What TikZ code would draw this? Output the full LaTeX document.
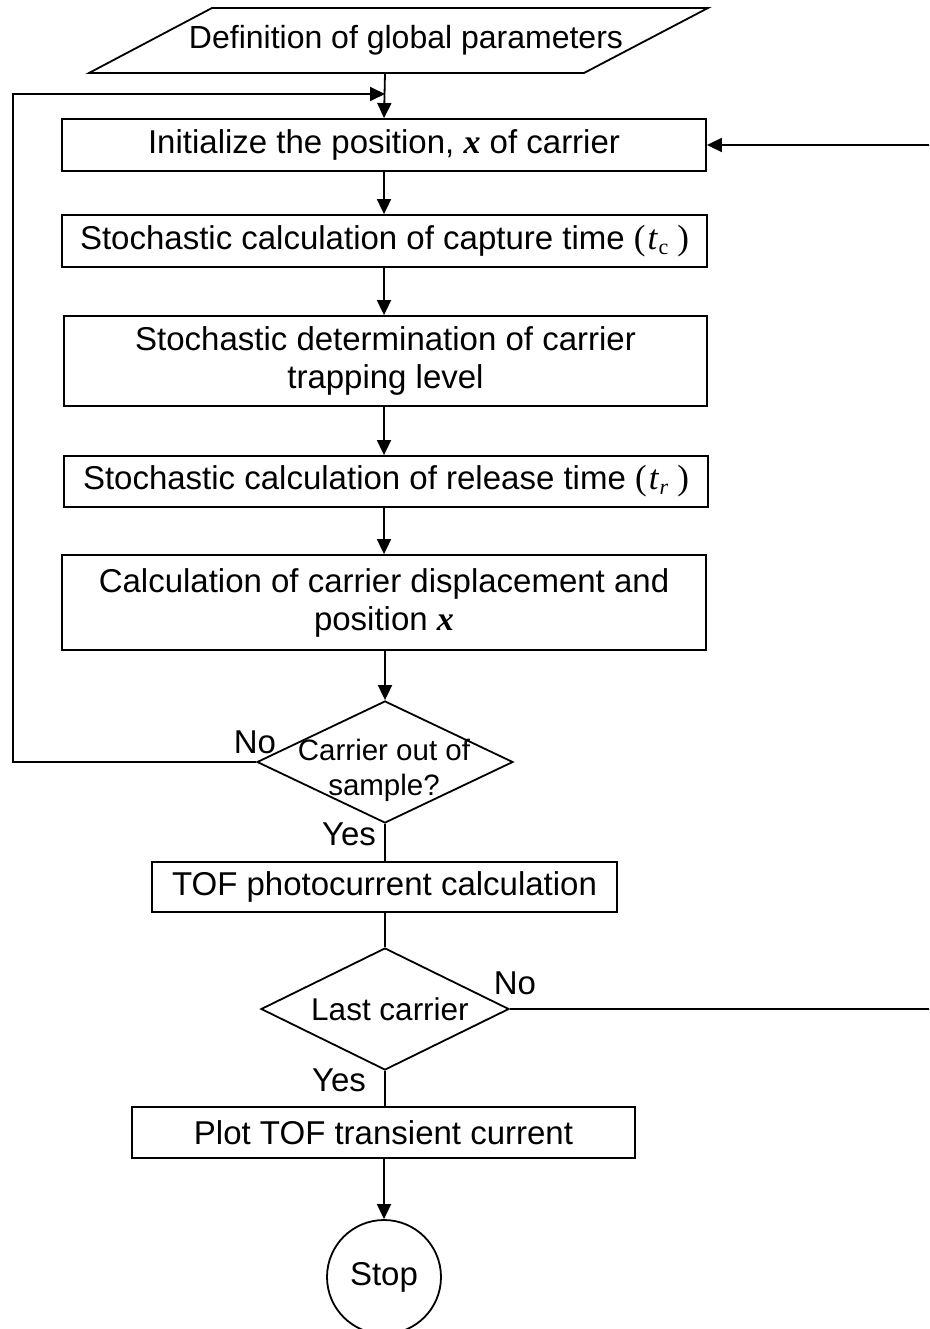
\documentclass[tikz,border=0pt]{standalone}
\usepackage{fontspec}
\setmainfont{Liberation Sans}
\newfontfamily\serifmath{Liberation Serif}
\usetikzlibrary{arrows.meta,shapes.geometric}
\newcommand{\bx}{{\serifmath\fontsize{34}{38}\selectfont\bfseries\itshape x}}
\newcommand{\tsub}[1]{{\serifmath\fontsize{35}{38}\selectfont(\kern2pt\textit{t}\kern0.5pt\raisebox{-5pt}{\fontsize{22}{24}\selectfont #1}\kern9pt)}}
\begin{document}
\begin{tikzpicture}[x=1pt,y=-1pt,
  every node/.style={font=\fontsize{33}{38}\selectfont, inner sep=0pt},
  line/.style={line width=1.8pt},
  arr/.style={line width=1.8pt, -{Triangle[length=15pt,width=14pt]}},
  procbox/.style={draw, line width=1.8pt, rectangle, align=center},
  decision/.style={draw, line width=1.8pt, diamond, inner sep=0pt},
  dtext/.style={font=\fontsize{29.5}{35}\selectfont, align=center},
  lbl/.style={font=\fontsize{33}{38}\selectfont}
]
\useasboundingbox (0,0) rectangle (929,1329);
\clip (0,0) rectangle (929,1329);

% input parallelogram
\draw[line] (212,8) -- (708,8) -- (584,73) -- (89,73) -- cycle;
\node[font=\fontsize{32}{38}\selectfont] (par) at (406,40) {Definition of global parameters};
\coordinate (parb) at (385,73);

% process boxes
\node[procbox, minimum width=644pt, minimum height=52pt] (b1) at (384,145) {Initialize the position, \bx\ of carrier};
\node[procbox, minimum width=645pt, minimum height=52pt] (b2) at (384.5,241) {Stochastic calculation of capture time \tsub{c}};
\node[procbox, minimum width=643pt, minimum height=90pt] (b3) at (385.5,361) {Stochastic determination of carrier\\trapping level};
\node[procbox, minimum width=644pt, minimum height=51pt] (b4) at (386,481.5) {Stochastic calculation of release time \tsub{\textit{r}}};
\node[procbox, minimum width=644pt, minimum height=95pt] (b5) at (384,602.5) {Calculation of carrier displacement and\\position \bx};

% decision 1
\node[decision, minimum width=256pt, minimum height=122pt] (d1) at (385,762) {};
\node[dtext] (d1t) at (384,770) {Carrier out of\\sample?};
\node[lbl] (no1) at (255,742) {No};
\node[lbl] (yes1) at (349,834) {Yes};

% TOF box
\node[procbox, minimum width=465pt, minimum height=50pt] (tof) at (384.5,887) {TOF photocurrent calculation};

% decision 2
\node[decision, minimum width=248pt, minimum height=122pt] (d2) at (385,1009) {};
\node[dtext, font=\fontsize{31.5}{36}\selectfont] (d2t) at (390,1009) {Last carrier};
\node[lbl] (no2) at (515,983) {No};
\node[lbl] (yes2) at (339,1080) {Yes};

% plot box
\node[procbox, minimum width=503pt, minimum height=51pt] (plot) at (383.5,1132.5) {Plot TOF transient current};

% stop
\node[draw, line width=1.8pt, circle, minimum size=114pt] (stop) at (384,1277) {Stop};

% connectors
\draw[arr] (parb) -- (b1.north);
\draw[arr] (b1.south) -- (b2.north -| b1.south);
\draw[arr] (b2.south -| b1.south) -- (b3.north -| b1.south);
\draw[arr] (b3.south -| b1.south) -- (b4.north -| b1.south);
\draw[arr] (b4.south -| b1.south) -- (b5.north -| b1.south);
\draw[arr] (b5.south -| d1.north) -- (d1.north);

\coordinate (lp) at (13,94);
\coordinate (lpe) at (385,94);
\draw[arr] (d1.west) -| (lp) -- (lpe);

\draw[line] (d1.south) -- (tof.north -| d1.south);
\draw[line] (tof.south -| d2.north) -- (d2.north);

\coordinate (rp) at (935,1009);
\draw[arr] (d2.east) -- (rp) |- (b1.east);

\draw[line] (d2.south) -- (plot.north -| d2.south);
\draw[arr] (plot.south -| stop.north) -- (stop.north);
\end{tikzpicture}
\end{document}
